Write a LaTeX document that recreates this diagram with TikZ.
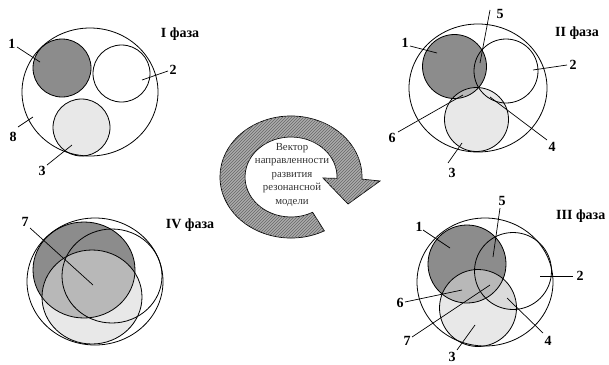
\documentclass[tikz,border=0pt]{standalone}
\usepackage{fontspec}
\setmainfont{Liberation Serif}
\usetikzlibrary{patterns}
\begin{document}
\begin{tikzpicture}[x=1pt,y=1pt]
\tikzset{
  ol/.style={draw=black, line width=0.8pt},
  darkc/.style={fill=black!45},
  lightc/.style={fill=black!9},
  midc/.style={fill=black!28},
  lbl/.style={font=\fontsize{14}{14}\selectfont\bfseries, inner sep=0pt},
  leader/.style={draw=black, line width=0.7pt},
  ring/.style={draw=black, line width=0.7pt, fill=black!33,
    postaction={pattern=north east lines, pattern color=black!60}},
}
\useasboundingbox (0,0) rectangle (609,-364);

% ---------------- Phase I ----------------
\fill[darkc] (62,-68) circle[radius=29];
\fill[lightc] (81.5,-127.5) circle[radius=28.5];
\draw[ol] (90,-92) ellipse[x radius=68, y radius=64];
\draw[ol] (62,-68) circle[radius=29];
\draw[ol] (121.5,-73.5) circle[radius=28.5];
\draw[ol] (81.5,-127.5) circle[radius=28.5];
\node[lbl] (aL1) at (12,-44) {1};
\node[lbl] (aL2) at (173,-70) {2};
\node[lbl] (aL8) at (13,-137) {8};
\node[lbl] (aL3) at (42,-171) {3};
\node[lbl] (aPh) at (180,-34) {I фаза};
\coordinate (a1s) at (17,-47);  \coordinate (a1e) at (40,-62);
\coordinate (a2s) at (168,-71); \coordinate (a2e) at (142,-80);
\coordinate (a8s) at (18,-127); \coordinate (a8e) at (33,-117);
\coordinate (a3s) at (47,-165); \coordinate (a3e) at (72,-145);
\draw[leader] (a1s) -- (a1e);
\draw[leader] (a2s) -- (a2e);
\draw[leader] (a8s) -- (a8e);
\draw[leader] (a3s) -- (a3e);

% ---------------- Phase II ----------------
\fill[darkc] (454.5,-66.5) circle[radius=32];
\fill[lightc] (476.5,-119.5) circle[radius=32];
\begin{scope}
  \clip (454.5,-66.5) circle[radius=32];
  \fill[midc] (476.5,-119.5) circle[radius=32];
\end{scope}
\draw[ol] (478,-88) ellipse[x radius=69, y radius=64];
\draw[ol] (454.5,-66.5) circle[radius=32];
\draw[ol] (506,-71) circle[radius=32];
\draw[ol] (476.5,-119.5) circle[radius=32];
\node[lbl] (bL1) at (405,-43) {1};
\node[lbl] (bL5) at (500,-14) {5};
\node[lbl] (bL2) at (573,-65) {2};
\node[lbl] (bL6) at (392,-138) {6};
\node[lbl] (bL4) at (552,-147) {4};
\node[lbl] (bL3) at (452,-173) {3};
\node[lbl] (bPh) at (577,-33) {II фаза};
\coordinate (b1s) at (410,-46);  \coordinate (b1e) at (437,-53);
\coordinate (b5s) at (490,-10);  \coordinate (b5e) at (480,-63);
\coordinate (b2s) at (567,-65);  \coordinate (b2e) at (533,-70);
\coordinate (b6s) at (398,-132); \coordinate (b6e) at (463,-95);
\coordinate (b4s) at (547,-140); \coordinate (b4e) at (490,-97);
\coordinate (b3s) at (448,-163); \coordinate (b3e) at (462,-143);
\draw[leader] (b1s) -- (b1e);
\draw[leader] (b5s) -- (b5e);
\draw[leader] (b2s) -- (b2e);
\draw[leader] (b6s) -- (b6e);
\draw[leader] (b4s) -- (b4e);
\draw[leader] (b3s) -- (b3e);

% ---------------- Phase III ----------------
\fill[darkc] (467,-264) circle[radius=39];
\fill[lightc] (478,-308) circle[radius=38.5];
\begin{scope}
  \clip (467,-264) circle[radius=39];
  \fill[midc] (478,-308) circle[radius=38.5];
\end{scope}
\begin{scope}
  \clip (513,-271) circle[radius=38.5];
  \fill[fill=black!14] (478,-308) circle[radius=38.5];
  \clip (467,-264) circle[radius=39];
  \fill[midc] (478,-308) circle[radius=38.5];
\end{scope}
\draw[ol] (485,-282) ellipse[x radius=68, y radius=64];
\draw[ol] (467,-264) circle[radius=39];
\draw[ol] (513,-271) circle[radius=38.5];
\draw[ol] (478,-308) circle[radius=38.5];
\node[lbl] (cL1) at (419,-227) {1};
\node[lbl] (cL5) at (502,-201) {5};
\node[lbl] (cL2) at (580,-276) {2};
\node[lbl] (cL6) at (400,-303) {6};
\node[lbl] (cL7) at (407,-341) {7};
\node[lbl] (cL4) at (548,-341) {4};
\node[lbl] (cL3) at (452,-357) {3};
\node[lbl, anchor=west] (cPh) at (556,-216) {III фаза};
\coordinate (c1s) at (423,-230); \coordinate (c1e) at (450,-248);
\coordinate (c5s) at (500,-208); \coordinate (c5e) at (493,-257);
\coordinate (c2s) at (573,-276); \coordinate (c2e) at (540,-276);
\coordinate (c6s) at (405,-302); \coordinate (c6e) at (462,-290);
\coordinate (c7s) at (412,-337); \coordinate (c7e) at (490,-285);
\coordinate (c4s) at (543,-333); \coordinate (c4e) at (507,-298);
\coordinate (c3s) at (457,-350); \coordinate (c3e) at (475,-325);
\draw[leader] (c1s) -- (c1e);
\draw[leader] (c5s) -- (c5e);
\draw[leader] (c2s) -- (c2e);
\draw[leader] (c6s) -- (c6e);
\draw[leader] (c7s) -- (c7e);
\draw[leader] (c4s) -- (c4e);
\draw[leader] (c3s) -- (c3e);

% ---------------- Phase IV ----------------
\fill[darkc] (84,-270) ellipse[x radius=51, y radius=48];
\fill[lightc] (92,-297) ellipse[x radius=50, y radius=47];
\begin{scope}
  \clip (84,-270) ellipse[x radius=51, y radius=48];
  \fill[midc] (92,-297) ellipse[x radius=50, y radius=47];
\end{scope}
\draw[ol] (95,-281.5) ellipse[x radius=68, y radius=63.5];
\draw[ol] (84,-270) ellipse[x radius=51, y radius=48];
\draw[ol] (112,-276) ellipse[x radius=50, y radius=47];
\draw[ol] (92,-297) ellipse[x radius=50, y radius=47];
\node[lbl] (dL7) at (25,-222) {7};
\node[lbl] (dPh) at (190,-225) {IV фаза};
\coordinate (d7s) at (30,-228); \coordinate (d7e) at (93,-285);
\draw[leader] (d7s) -- (d7e);

% ---------------- Ring arrow ----------------
\coordinate (rc) at (291,-177);
\coordinate (hb1) at (380,-181);
\coordinate (tip) at (348,-204);
\coordinate (hb2) at (323,-178);
\coordinate (ri) at (337,-178.4);
\draw[ring] (rc) ++(-62:71 and 61)
  arc[start angle=-62, end angle=-362, x radius=71, y radius=61]
  -- (hb1) -- (tip) -- (hb2) -- (ri)
  arc[start angle=-362, end angle=-62, x radius=46, y radius=40]
  -- cycle;
\node[font=\fontsize{10.8}{13.5}\selectfont, align=center, inner sep=0pt, text=black!80] (vec) at (292,-175)
  {Вектор\\направленности\\развития\\резонансной\\модели};
\end{tikzpicture}
\end{document}
